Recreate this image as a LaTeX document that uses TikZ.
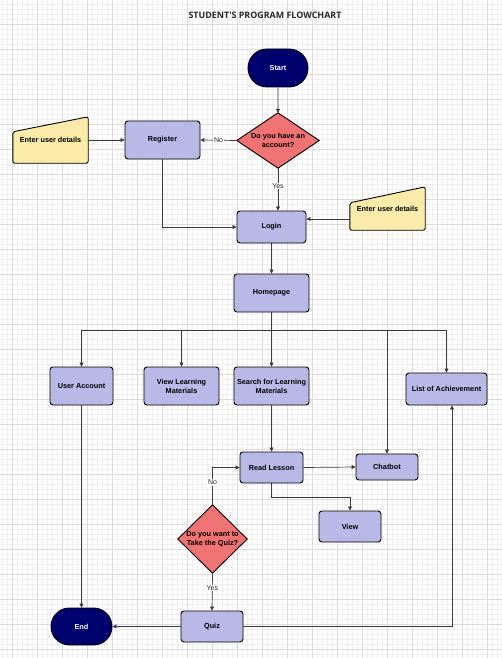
\documentclass[tikz,border=0pt]{standalone}
\usepackage{fontspec}
\setmainfont{Liberation Sans}
\newfontfamily\titlefont{Open Sans}
\usetikzlibrary{arrows.meta,shapes.misc}
\pgfdeclarelayer{gridl}
\pgfdeclarelayer{shp}
\pgfsetlayers{gridl,shp,main}
\definecolor{navy}{RGB}{0,0,110}
\definecolor{lav}{RGB}{185,185,232}
\definecolor{dred}{RGB}{240,115,115}
\definecolor{yel}{RGB}{250,235,170}
\definecolor{edgec}{RGB}{60,60,60}
\begin{document}
\begin{tikzpicture}[x=1pt,y=-1pt,
  txt/.style={font=\fontsize{7.3}{9}\selectfont\bfseries, align=center, text=black},
  box/.style={txt, draw=black, line width=0.9pt, rounded corners=3pt, fill=lav, inner sep=1pt},
  term/.style={txt, text=white, rounded rectangle, draw=black, line width=0.9pt, fill=navy, inner sep=1pt},
  ghost/.style={txt, draw=none, inner sep=1pt},
  shpline/.style={draw=black, line width=0.9pt},
  arr/.style={draw=edgec, line width=0.7pt, -{Triangle[length=4pt,width=4pt]}},
  lbl/.style={font=\fontsize{7}{8}\selectfont, fill=white, inner sep=0.8pt, text=black!85},
  minorg/.style={draw=black!6, line width=0.5pt},
  majorg/.style={draw=black!14, line width=0.8pt}]
\useasboundingbox (0,0) rectangle (502,658);
\begin{pgfonlayer}{gridl}
\fill[white] (0,0) rectangle (502,658);
\foreach \x in {2,7,...,502} \draw[minorg] (\x,0) -- (\x,658);
\foreach \y in {4,9,...,658} \draw[minorg] (0,\y) -- (502,\y);
\foreach \x in {12,37,...,502} \draw[majorg] (\x,0) -- (\x,658);
\foreach \y in {24,49,...,658} \draw[majorg] (0,\y) -- (502,\y);
\end{pgfonlayer}

\node[font=\titlefont\bfseries\fontsize{8.9}{10}\selectfont, text=black!85] (title) at (265,15) {STUDENT'S PROGRAM FLOWCHART};

\node[term, minimum width=62pt, minimum height=38pt] (start) at (278,68) {Start};
\node[ghost, minimum width=82pt, minimum height=55pt] (d1) at (278,140.5) {Do you have an\\account?};
\node[box, minimum width=75pt, minimum height=38pt] (reg) at (162.5,140) {Register};
\node[ghost, minimum width=75pt, minimum height=46pt] (eu1) at (50.5,140) {Enter user details};
\node[box, minimum width=69pt, minimum height=32pt] (login) at (271.5,227) {Login};
\node[ghost, minimum width=75pt, minimum height=43pt] (eu2) at (387.5,208.5) {Enter user details};
\node[box, minimum width=75pt, minimum height=38pt] (home) at (271.5,293) {Homepage};
\node[box, minimum width=63pt, minimum height=38pt] (ua) at (81.5,386) {User Account};
\node[box, minimum width=75pt, minimum height=38pt] (vlm) at (181.5,386) {View Learning\\Materials};
\node[box, minimum width=75pt, minimum height=38pt] (slm) at (271.5,386) {Search for Learning\\Materials};
\node[box, minimum width=81pt, minimum height=32pt] (loa) at (446.5,389) {List of Achievement};
\node[box, minimum width=63pt, minimum height=31pt] (read) at (271.5,467.5) {Read Lesson};
\node[box, minimum width=62pt, minimum height=26pt] (chat) at (387,467) {Chatbot};
\node[box, minimum width=62pt, minimum height=31pt] (view) at (350,526.5) {View};
\node[ghost, minimum width=69pt, minimum height=68pt] (d2) at (212.5,539) {Do you want to\\Take the Quiz?};
\node[box, minimum width=62pt, minimum height=31pt] (quiz) at (212,626.5) {Quiz};
\node[term, minimum width=63pt, minimum height=37pt] (end) at (81.5,626.5) {End};

\begin{pgfonlayer}{shp}
\draw[shpline, fill=dred] (d1.north) -- (d1.east) -- (d1.south) -- (d1.west) -- cycle;
\draw[shpline, fill=dred] (d2.north) -- (d2.east) -- (d2.south) -- (d2.west) -- cycle;
\draw[shpline, fill=yel, rounded corners=2pt] ([yshift=-15pt]eu1.north west) -- (eu1.north east) -- (eu1.south east) -- (eu1.south west) -- cycle;
\draw[shpline, fill=yel, rounded corners=2pt] ([yshift=-16pt]eu2.north west) -- (eu2.north east) -- (eu2.south east) -- (eu2.south west) -- cycle;
\end{pgfonlayer}

\coordinate (br) at (271.5,330);
\draw[arr] (start) -- (d1.north);
\draw[arr] (d1.west) -- node[lbl, pos=0.5] {No} (reg.east);
\draw[arr] (d1.south) -- node[lbl, pos=0.42] {Yes} (d1.south |- login.north);
\draw[arr] (eu1.east) -- (reg.west);
\draw[arr] (reg.south) |- (login.west);
\draw[arr] ([yshift=-10.5pt]eu2.west) -- ([yshift=-10.5pt]eu2.west -| login.east);
\draw[arr] (login.south) -- (home.north);
\draw[draw=edgec, line width=0.9pt] (home.south) -- (br);
\draw[arr] (br) -| (ua.north);
\draw[arr] (br) -| (vlm.north);
\draw[arr] (br) -- (slm.north);
\draw[arr] (br) -| (chat.north);
\draw[arr] (br) -| (loa.north);
\draw[arr] (slm.south) -- (read.north);
\draw[arr] (read.east) -- (chat.west);
\draw[arr] (read.south) -- ++(0,14) -| (view.north);
\draw[arr] (d2.north) |- node[lbl, pos=0.3] {No} (read.west);
\draw[arr] (d2.south) -- node[lbl, pos=0.4] {Yes} (quiz.north);
\draw[arr] (ua.south) -- (end.north);
\draw[arr] (quiz.west) -- (end.east);
\draw[arr] (quiz.east) -| ([xshift=5.5pt]loa.south);
\end{tikzpicture}
\end{document}
